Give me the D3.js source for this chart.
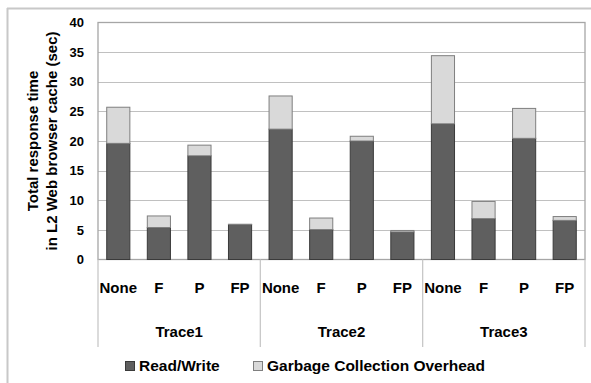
<!DOCTYPE html>
<html><head><meta charset="utf-8">
<script src="https://cdn.jsdelivr.net/npm/d3@7/dist/d3.min.js"></script>
<style>
body{margin:0;background:#fff;}
svg{display:block;font-family:"Liberation Sans",Arial,sans-serif;font-weight:bold;}
</style></head><body>
<svg id="c" width="591" height="383"></svg>
<script>
const groups = ["Trace1","Trace2","Trace3"];
const subcats = ["None","F","P","FP"];
const readWrite = [19.6, 5.4, 17.5, 5.9, 22.0, 5.05, 20.0, 4.65, 22.9, 6.9, 20.45, 6.6];
const gcOverhead = [6.1, 1.95, 1.8, 0.05, 5.6, 1.95, 0.8, 0.25, 11.5, 2.9, 5.05, 0.65];
const yTicks = [0,5,10,15,20,25,30,35,40];
const seriesNames = ["Read/Write","Garbage Collection Overhead"];
const colors = ["#5f5f5f","#d9d9d9"];
const strokes = ["#3a3a3a","#7f7f7f"];

const cats = [];
groups.forEach(g => subcats.forEach(s => cats.push(g + "|" + s)));

const svg = d3.select("#c");
const L = 98, R = 585, T = 22.5, B = 259.5;
const x = d3.scaleBand().domain(cats).range([L, R]).paddingInner(0.43).paddingOuter(0.215);
const xb = d3.scaleBand().domain(cats).range([L, R]);
const y = d3.scaleLinear().domain([0, 40]).range([B, T]);

// outer frame
svg.append("line").attr("x1",7.5).attr("x2",7.5).attr("y1",8).attr("y2",383).attr("stroke","#c8c8c8").attr("stroke-width",2);
svg.append("line").attr("x1",7).attr("x2",591).attr("y1",8.5).attr("y2",8.5).attr("stroke","#c8c8c8").attr("stroke-width",2);

// gridlines
svg.append("g").selectAll("line").data(yTicks.filter(d => d > 0 && d < 40)).join("line")
  .attr("x1", L).attr("x2", R).attr("y1", d => Math.round(y(d)) + 0.5).attr("y2", d => Math.round(y(d)) + 0.5)
  .attr("stroke", "#c0c0c0").attr("stroke-width", 1.2);

// plot border
svg.append("rect").attr("x", L).attr("y", T).attr("width", R - L).attr("height", B - T)
  .attr("fill","none").attr("stroke","#a6a6a6").attr("stroke-width",1.3);

// y axis ticks labels
const yAxis = d3.axisLeft(y).tickValues(yTicks).tickSize(0).tickPadding(14);
const ya = svg.append("g").attr("transform", `translate(${L},0)`).call(yAxis);
ya.select(".domain").remove();
ya.selectAll("text").attr("font-size", 13).attr("font-weight","bold").attr("font-family","Liberation Sans, Arial, sans-serif").attr("fill","#000");

// bars
const stackData = cats.map((c, i) => ({c, v: [readWrite[i], gcOverhead[i]]}));
stackData.forEach(d => {
  let base = 0;
  d.v.forEach((v, k) => {
    svg.append("rect")
      .attr("x", x(d.c)).attr("width", x.bandwidth())
      .attr("y", y(base + v)).attr("height", y(base) - y(base + v))
      .attr("fill", colors[k]).attr("stroke", strokes[k]).attr("stroke-width", 1);
    base += v;
  });
});

// category axis separators
const sepX = [0, 4, 8, 12].map(i => i < 12 ? xb(cats[i]) : R);
svg.append("g").selectAll("line").data(sepX).join("line")
  .attr("x1", d => d).attr("x2", d => d).attr("y1", B).attr("y2", 347)
  .attr("stroke", "#c8c8c8").attr("stroke-width", 1.3);

// subcategory labels
svg.append("g").selectAll("text").data(cats).join("text")
  .attr("x", d => xb(d) + xb.bandwidth() / 2).attr("y", 293)
  .attr("text-anchor", "middle").attr("font-size", 15)
  .text(d => d.split("|")[1]);

// group labels
svg.append("g").selectAll("text").data(groups).join("text")
  .attr("x", (g, i) => (sepX[i] + sepX[i + 1]) / 2).attr("y", 337)
  .attr("text-anchor", "middle").attr("font-size", 15)
  .text(g => g);

// y title
const yt = svg.append("text").attr("transform", "translate(0,141) rotate(-90)")
  .attr("text-anchor", "middle").attr("font-size", 15);
yt.append("tspan").attr("x", 0).attr("y", 38).text("Total response time");
yt.append("tspan").attr("x", 0).attr("y", 57).text("in L2 Web browser cache (sec)");

// legend
const legX = [125, 253];
seriesNames.forEach((n, k) => {
  svg.append("rect").attr("x", legX[k] + 0.5).attr("y", 361.5).attr("width", 9).attr("height", 9)
    .attr("fill", colors[k]).attr("stroke", strokes[k]).attr("stroke-width", 1);
  svg.append("text").attr("x", legX[k] + 14).attr("y", 371).attr("font-size", 15.5).text(n);
});
</script>
</body></html>
